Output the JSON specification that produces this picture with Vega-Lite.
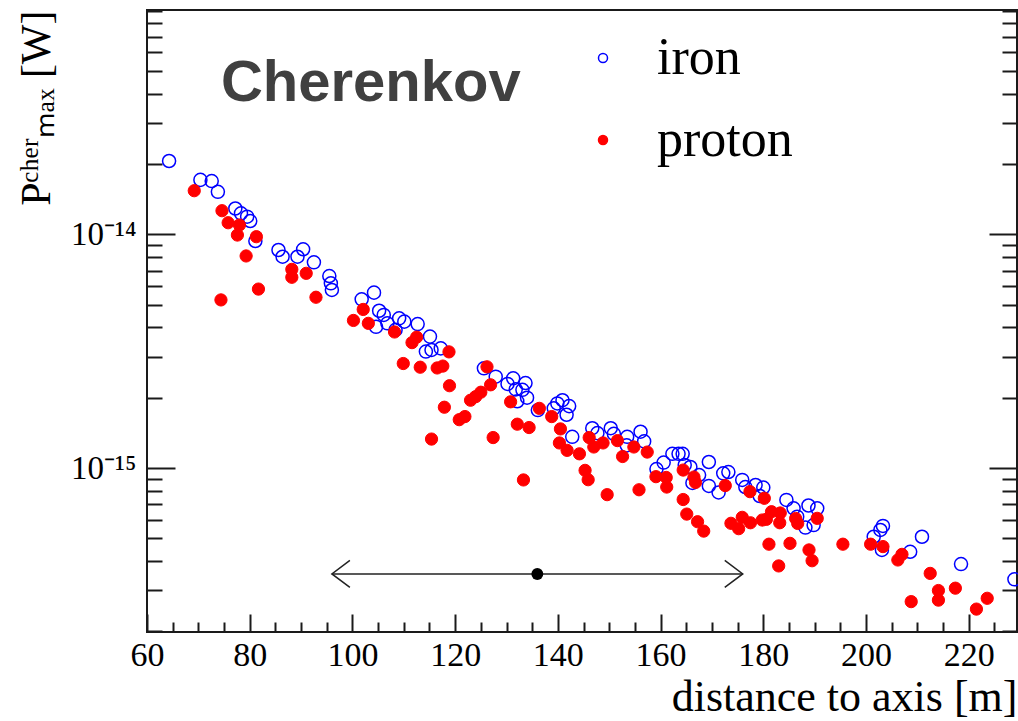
{
  "$schema": "https://vega.github.io/schema/vega-lite/v6.json",
  "width": 870,
  "height": 622,
  "autosize": {"type": "none"},
  "padding": {"left": 147, "top": 10, "right": 1, "bottom": 89},
  "background": "white",
  "config": {
    "view": {"stroke": "#1a1a1a", "strokeWidth": 2},
    "axis": {"grid": false, "domain": false, "tickColor": "#1a1a1a", "tickWidth": 2, "labelColor": "#000000", "labelFont": "Liberation Serif", "titleFont": "Liberation Serif", "titleColor": "#000000", "titleFontWeight": "normal", "labelFlush": false}
  },
  "datasets": {
    "iron": [
      {"d": 64.3, "p": 2.06e-14, "type": "iron"}, {"d": 70.4, "p": 1.71e-14, "type": "iron"}, {"d": 72.6, "p": 1.69e-14, "type": "iron"},
      {"d": 73.8, "p": 1.52e-14, "type": "iron"}, {"d": 77.2, "p": 1.29e-14, "type": "iron"}, {"d": 78.3, "p": 1.23e-14, "type": "iron"},
      {"d": 79.5, "p": 1.19e-14, "type": "iron"}, {"d": 80.1, "p": 1.14e-14, "type": "iron"}, {"d": 81.1, "p": 9.36e-15, "type": "iron"},
      {"d": 85.6, "p": 8.57e-15, "type": "iron"}, {"d": 86.4, "p": 8.02e-15, "type": "iron"}, {"d": 89.3, "p": 8.02e-15, "type": "iron"},
      {"d": 90.4, "p": 8.63e-15, "type": "iron"}, {"d": 92.5, "p": 7.59e-15, "type": "iron"}, {"d": 95.5, "p": 6.63e-15, "type": "iron"},
      {"d": 95.8, "p": 6.17e-15, "type": "iron"}, {"d": 96.0, "p": 5.78e-15, "type": "iron"}, {"d": 101.8, "p": 5.27e-15, "type": "iron"},
      {"d": 104.2, "p": 5.63e-15, "type": "iron"}, {"d": 105.2, "p": 4.71e-15, "type": "iron"}, {"d": 106.1, "p": 4.52e-15, "type": "iron"},
      {"d": 104.6, "p": 4.02e-15, "type": "iron"}, {"d": 106.8, "p": 4.16e-15, "type": "iron"}, {"d": 109.1, "p": 4.37e-15, "type": "iron"},
      {"d": 110.1, "p": 4.23e-15, "type": "iron"}, {"d": 108.4, "p": 3.90e-15, "type": "iron"}, {"d": 112.7, "p": 4.13e-15, "type": "iron"},
      {"d": 115.1, "p": 3.65e-15, "type": "iron"}, {"d": 114.3, "p": 3.15e-15, "type": "iron"}, {"d": 115.4, "p": 3.20e-15, "type": "iron"},
      {"d": 117.2, "p": 3.25e-15, "type": "iron"}, {"d": 125.6, "p": 2.67e-15, "type": "iron"}, {"d": 127.9, "p": 2.46e-15, "type": "iron"},
      {"d": 130.2, "p": 2.29e-15, "type": "iron"}, {"d": 131.3, "p": 2.42e-15, "type": "iron"}, {"d": 133.7, "p": 2.31e-15, "type": "iron"},
      {"d": 131.8, "p": 2.17e-15, "type": "iron"}, {"d": 133.1, "p": 2.16e-15, "type": "iron"}, {"d": 134.0, "p": 2.00e-15, "type": "iron"},
      {"d": 132.1, "p": 1.93e-15, "type": "iron"}, {"d": 136.1, "p": 1.77e-15, "type": "iron"}, {"d": 139.9, "p": 1.89e-15, "type": "iron"},
      {"d": 140.9, "p": 1.95e-15, "type": "iron"}, {"d": 142.2, "p": 1.84e-15, "type": "iron"}, {"d": 141.7, "p": 1.69e-15, "type": "iron"},
      {"d": 139.2, "p": 1.80e-15, "type": "iron"}, {"d": 142.8, "p": 1.36e-15, "type": "iron"}, {"d": 146.7, "p": 1.48e-15, "type": "iron"},
      {"d": 147.7, "p": 1.41e-15, "type": "iron"}, {"d": 150.3, "p": 1.48e-15, "type": "iron"}, {"d": 150.9, "p": 1.40e-15, "type": "iron"},
      {"d": 153.5, "p": 1.36e-15, "type": "iron"}, {"d": 156.1, "p": 1.43e-15, "type": "iron"}, {"d": 156.8, "p": 1.30e-15, "type": "iron"},
      {"d": 153.4, "p": 1.25e-15, "type": "iron"}, {"d": 159.2, "p": 9.90e-16, "type": "iron"}, {"d": 160.6, "p": 1.055e-15, "type": "iron"},
      {"d": 162.3, "p": 1.15e-15, "type": "iron"}, {"d": 163.5, "p": 1.15e-15, "type": "iron"}, {"d": 164.3, "p": 1.15e-15, "type": "iron"},
      {"d": 164.7, "p": 1.03e-15, "type": "iron"}, {"d": 165.8, "p": 1.01e-15, "type": "iron"}, {"d": 166.2, "p": 8.63e-16, "type": "iron"},
      {"d": 167.5, "p": 9.33e-16, "type": "iron"}, {"d": 169.4, "p": 1.061e-15, "type": "iron"}, {"d": 169.4, "p": 8.38e-16, "type": "iron"},
      {"d": 171.3, "p": 7.86e-16, "type": "iron"}, {"d": 172.2, "p": 9.49e-16, "type": "iron"}, {"d": 173.2, "p": 9.61e-16, "type": "iron"},
      {"d": 175.9, "p": 8.89e-16, "type": "iron"}, {"d": 176.5, "p": 8.29e-16, "type": "iron"}, {"d": 178.5, "p": 8.46e-16, "type": "iron"},
      {"d": 180.0, "p": 8.25e-16, "type": "iron"}, {"d": 179.3, "p": 7.59e-16, "type": "iron"}, {"d": 184.5, "p": 7.30e-16, "type": "iron"},
      {"d": 185.9, "p": 6.72e-16, "type": "iron"}, {"d": 186.6, "p": 6.19e-16, "type": "iron"}, {"d": 188.2, "p": 5.56e-16, "type": "iron"},
      {"d": 188.8, "p": 6.91e-16, "type": "iron"}, {"d": 190.5, "p": 6.72e-16, "type": "iron"}, {"d": 189.8, "p": 5.70e-16, "type": "iron"},
      {"d": 201.5, "p": 5.08e-16, "type": "iron"}, {"d": 202.8, "p": 5.43e-16, "type": "iron"}, {"d": 203.3, "p": 5.65e-16, "type": "iron"},
      {"d": 203.1, "p": 4.46e-16, "type": "iron"}, {"d": 208.6, "p": 4.38e-16, "type": "iron"}, {"d": 210.9, "p": 5.08e-16, "type": "iron"},
      {"d": 218.5, "p": 3.88e-16, "type": "iron"}, {"d": 228.9, "p": 3.34e-16, "type": "iron"}
    ],
    "proton": [
      {"d": 69.2, "p": 1.537e-14, "type": "proton"}, {"d": 74.6, "p": 1.262e-14, "type": "proton"}, {"d": 75.8, "p": 1.121e-14, "type": "proton"},
      {"d": 78.0, "p": 1.096e-14, "type": "proton"}, {"d": 77.6, "p": 9.93e-15, "type": "proton"}, {"d": 81.3, "p": 9.77e-15, "type": "proton"},
      {"d": 79.3, "p": 8.08e-15, "type": "proton"}, {"d": 74.4, "p": 5.24e-15, "type": "proton"}, {"d": 81.7, "p": 5.83e-15, "type": "proton"},
      {"d": 88.2, "p": 7.08e-15, "type": "proton"}, {"d": 88.2, "p": 6.55e-15, "type": "proton"}, {"d": 91.0, "p": 6.81e-15, "type": "proton"},
      {"d": 92.9, "p": 5.38e-15, "type": "proton"}, {"d": 100.2, "p": 4.28e-15, "type": "proton"}, {"d": 102.1, "p": 4.77e-15, "type": "proton"},
      {"d": 103.1, "p": 4.16e-15, "type": "proton"}, {"d": 108.2, "p": 3.82e-15, "type": "proton"}, {"d": 111.6, "p": 3.44e-15, "type": "proton"},
      {"d": 112.5, "p": 3.63e-15, "type": "proton"}, {"d": 109.9, "p": 2.80e-15, "type": "proton"}, {"d": 113.2, "p": 2.70e-15, "type": "proton"},
      {"d": 116.5, "p": 2.68e-15, "type": "proton"}, {"d": 117.6, "p": 2.73e-15, "type": "proton"}, {"d": 118.8, "p": 3.14e-15, "type": "proton"},
      {"d": 118.9, "p": 2.25e-15, "type": "proton"}, {"d": 117.9, "p": 1.82e-15, "type": "proton"}, {"d": 115.4, "p": 1.33e-15, "type": "proton"},
      {"d": 120.8, "p": 1.61e-15, "type": "proton"}, {"d": 121.9, "p": 1.66e-15, "type": "proton"}, {"d": 123.0, "p": 1.95e-15, "type": "proton"},
      {"d": 124.0, "p": 2.02e-15, "type": "proton"}, {"d": 125.0, "p": 2.11e-15, "type": "proton"}, {"d": 126.2, "p": 2.71e-15, "type": "proton"},
      {"d": 126.9, "p": 2.27e-15, "type": "proton"}, {"d": 127.4, "p": 1.35e-15, "type": "proton"}, {"d": 130.8, "p": 1.92e-15, "type": "proton"},
      {"d": 132.1, "p": 1.54e-15, "type": "proton"}, {"d": 134.4, "p": 1.49e-15, "type": "proton"}, {"d": 133.3, "p": 8.89e-16, "type": "proton"},
      {"d": 136.4, "p": 1.80e-15, "type": "proton"}, {"d": 138.8, "p": 1.66e-15, "type": "proton"}, {"d": 140.5, "p": 1.47e-15, "type": "proton"},
      {"d": 140.3, "p": 1.28e-15, "type": "proton"}, {"d": 141.8, "p": 1.19e-15, "type": "proton"}, {"d": 144.2, "p": 1.15e-15, "type": "proton"},
      {"d": 145.3, "p": 9.77e-16, "type": "proton"}, {"d": 145.9, "p": 8.91e-16, "type": "proton"}, {"d": 146.1, "p": 1.35e-15, "type": "proton"},
      {"d": 147.0, "p": 1.23e-15, "type": "proton"}, {"d": 148.8, "p": 1.28e-15, "type": "proton"}, {"d": 151.6, "p": 1.31e-15, "type": "proton"},
      {"d": 152.6, "p": 1.12e-15, "type": "proton"}, {"d": 154.8, "p": 1.23e-15, "type": "proton"}, {"d": 157.4, "p": 1.17e-15, "type": "proton"},
      {"d": 149.6, "p": 7.69e-16, "type": "proton"}, {"d": 155.8, "p": 8.07e-16, "type": "proton"}, {"d": 159.1, "p": 9.18e-16, "type": "proton"},
      {"d": 161.1, "p": 9.11e-16, "type": "proton"}, {"d": 161.2, "p": 8.29e-16, "type": "proton"}, {"d": 164.4, "p": 9.80e-16, "type": "proton"},
      {"d": 166.5, "p": 9.15e-16, "type": "proton"}, {"d": 166.8, "p": 8.67e-16, "type": "proton"}, {"d": 164.4, "p": 7.33e-16, "type": "proton"},
      {"d": 165.1, "p": 6.35e-16, "type": "proton"}, {"d": 167.2, "p": 5.89e-16, "type": "proton"}, {"d": 168.4, "p": 5.37e-16, "type": "proton"},
      {"d": 172.6, "p": 8.41e-16, "type": "proton"}, {"d": 177.4, "p": 7.92e-16, "type": "proton"}, {"d": 180.2, "p": 7.42e-16, "type": "proton"},
      {"d": 173.7, "p": 5.80e-16, "type": "proton"}, {"d": 175.2, "p": 5.50e-16, "type": "proton"}, {"d": 175.9, "p": 6.15e-16, "type": "proton"},
      {"d": 177.5, "p": 5.83e-16, "type": "proton"}, {"d": 179.8, "p": 5.99e-16, "type": "proton"}, {"d": 180.6, "p": 6.03e-16, "type": "proton"},
      {"d": 181.6, "p": 6.50e-16, "type": "proton"}, {"d": 183.3, "p": 6.42e-16, "type": "proton"}, {"d": 183.2, "p": 5.83e-16, "type": "proton"},
      {"d": 186.3, "p": 6.08e-16, "type": "proton"}, {"d": 186.7, "p": 5.79e-16, "type": "proton"}, {"d": 190.5, "p": 6.09e-16, "type": "proton"},
      {"d": 181.1, "p": 4.72e-16, "type": "proton"}, {"d": 185.2, "p": 4.76e-16, "type": "proton"}, {"d": 183.0, "p": 3.81e-16, "type": "proton"},
      {"d": 188.9, "p": 4.46e-16, "type": "proton"}, {"d": 189.5, "p": 4.01e-16, "type": "proton"}, {"d": 195.5, "p": 4.72e-16, "type": "proton"},
      {"d": 200.9, "p": 4.72e-16, "type": "proton"}, {"d": 203.3, "p": 4.61e-16, "type": "proton"}, {"d": 206.2, "p": 4.04e-16, "type": "proton"},
      {"d": 207.0, "p": 4.27e-16, "type": "proton"}, {"d": 212.5, "p": 3.54e-16, "type": "proton"}, {"d": 208.8, "p": 2.68e-16, "type": "proton"},
      {"d": 214.1, "p": 2.99e-16, "type": "proton"}, {"d": 214.1, "p": 2.72e-16, "type": "proton"}, {"d": 217.4, "p": 3.06e-16, "type": "proton"},
      {"d": 221.5, "p": 2.49e-16, "type": "proton"}, {"d": 223.6, "p": 2.77e-16, "type": "proton"}
    ]
  },
  "layer": [
    {
      "data": {"name": "iron"},
      "mark": {"type": "point", "shape": "circle", "size": 170, "strokeWidth": 1.5, "opacity": 1},
      "encoding": {
        "x": {"field": "d", "type": "quantitative", "scale": {"domain": [60, 229.4], "nice": false, "zero": false},
          "axis": {"orient": "bottom", "values": [60, 80, 100, 120, 140, 160, 180, 200, 220], "tickSize": -18, "labelFontSize": 34, "labelPadding": 24, "format": "d", "title": "distance to axis [m]", "titleFontSize": 44, "titleAnchor": "end", "titlePadding": 3}},
        "y": {"field": "p", "type": "quantitative", "scale": {"type": "log", "domain": [1.987e-16, 9.12e-14], "nice": false},
          "axis": {"orient": "left", "values": [1e-15, 1e-14], "tickSize": -28, "labelFontSize": 33, "labelPadding": 39, "labelExpr": "datum.value > 5e-15 ? '10⁻¹⁴' : '10⁻¹⁵'", "title": "Pᶜʰᵉʳₘₐₓ [W]", "titleFontSize": 42, "titleAnchor": "end", "titlePadding": 12}},
        "stroke": {"field": "type", "type": "nominal", "scale": {"domain": ["iron", "proton"], "range": ["#0000ff", "#ff0000"]},
          "legend": {"title": null, "orient": "none", "legendX": 430, "legendY": 22, "labelFont": "Liberation Serif", "labelFontSize": 52, "labelColor": "#000000", "symbolSize": 81, "symbolStrokeWidth": 1.5, "rowPadding": 30, "labelOffset": 28, "padding": 0}},
        "fill": {"field": "type", "type": "nominal", "scale": {"domain": ["iron", "proton"], "range": ["transparent", "#ff0000"]},
          "legend": {"title": null, "orient": "none", "legendX": 430, "legendY": 22, "labelFont": "Liberation Serif", "labelFontSize": 52, "labelColor": "#000000", "symbolSize": 81, "symbolStrokeWidth": 1.5, "rowPadding": 30, "labelOffset": 28, "padding": 0}}
      }
    },
    {
      "data": {"name": "proton"},
      "mark": {"type": "point", "shape": "circle", "size": 150, "strokeWidth": 1, "opacity": 1},
      "encoding": {
        "x": {"field": "d", "type": "quantitative", "scale": {"domain": [60, 229.4], "nice": false, "zero": false},
          "axis": {"orient": "bottom", "values": [65, 70, 75, 85, 90, 95, 105, 110, 115, 125, 130, 135, 145, 150, 155, 165, 170, 175, 185, 190, 195, 205, 210, 215, 225], "tickSize": -10, "labels": false, "title": null}},
        "y": {"field": "p", "type": "quantitative", "scale": {"type": "log", "domain": [1.987e-16, 9.12e-14], "nice": false},
          "axis": {"orient": "left", "values": [2e-16, 3e-16, 4e-16, 5e-16, 6e-16, 7e-16, 8e-16, 9e-16, 2e-15, 3e-15, 4e-15, 5e-15, 6e-15, 7e-15, 8e-15, 9e-15, 2e-14, 3e-14, 4e-14, 5e-14, 6e-14, 7e-14, 8e-14, 9e-14], "tickSize": -15, "labels": false, "title": null}},
        "stroke": {"field": "type", "type": "nominal"},
        "fill": {"field": "type", "type": "nominal"}
      }
    },
    {
      "data": {"values": [{"lo": 96, "hi": 176, "p": 3.52e-16}]},
      "mark": {"type": "rule", "stroke": "#222222", "strokeWidth": 1.5},
      "encoding": {
        "x": {"field": "lo", "type": "quantitative", "scale": {"domain": [60, 229.4], "nice": false, "zero": false}, "axis": null},
        "x2": {"field": "hi"},
        "y": {"field": "p", "type": "quantitative", "scale": {"type": "log", "domain": [1.987e-16, 9.12e-14], "nice": false},
          "axis": {"orient": "right", "values": [1e-15, 1e-14], "tickSize": -28, "labels": false, "title": null}}
      }
    },
    {
      "data": {"values": [{"d": 96, "p": 3.52e-16, "end": "lo"}, {"d": 176, "p": 3.52e-16, "end": "hi"}]},
      "mark": {"type": "point", "filled": false, "stroke": "#222222", "strokeWidth": 1.5, "size": 324, "opacity": 1},
      "encoding": {
        "x": {"field": "d", "type": "quantitative", "scale": {"domain": [60, 229.4], "nice": false, "zero": false}, "axis": null},
        "y": {"field": "p", "type": "quantitative", "scale": {"type": "log", "domain": [1.987e-16, 9.12e-14], "nice": false},
          "axis": {"orient": "right", "values": [2e-16, 3e-16, 4e-16, 5e-16, 6e-16, 7e-16, 8e-16, 9e-16, 2e-15, 3e-15, 4e-15, 5e-15, 6e-15, 7e-15, 8e-15, 9e-15, 2e-14, 3e-14, 4e-14, 5e-14, 6e-14, 7e-14, 8e-14, 9e-14], "tickSize": -15, "labels": false, "title": null}},
        "shape": {"field": "end", "type": "nominal", "scale": {"domain": ["lo", "hi"], "range": ["M 2 -1.5 L 0 0 L 2 1.5", "M -2 -1.5 L 0 0 L -2 1.5"]}, "legend": null}
      }
    },
    {
      "data": {"values": [{"d": 136, "p": 3.52e-16}]},
      "mark": {"type": "point", "shape": "circle", "filled": true, "color": "#000000", "size": 140, "opacity": 1},
      "encoding": {
        "x": {"field": "d", "type": "quantitative", "scale": {"domain": [60, 229.4], "nice": false, "zero": false}, "axis": null},
        "y": {"field": "p", "type": "quantitative", "scale": {"type": "log", "domain": [1.987e-16, 9.12e-14], "nice": false}, "axis": null}
      }
    },
    {
      "data": {"values": [{"d": 74.4, "p": 3.72e-14, "label": "Cherenkov"}]},
      "mark": {"type": "text", "align": "left", "baseline": "alphabetic", "font": "Liberation Sans", "fontWeight": "bold", "fontSize": 58, "color": "#404040"},
      "encoding": {
        "x": {"field": "d", "type": "quantitative", "scale": {"domain": [60, 229.4], "nice": false, "zero": false}, "axis": null},
        "y": {"field": "p", "type": "quantitative", "scale": {"type": "log", "domain": [1.987e-16, 9.12e-14], "nice": false}, "axis": null},
        "text": {"field": "label"}
      }
    }
  ],
  "resolve": {"axis": {"x": "independent", "y": "independent"}}
}
